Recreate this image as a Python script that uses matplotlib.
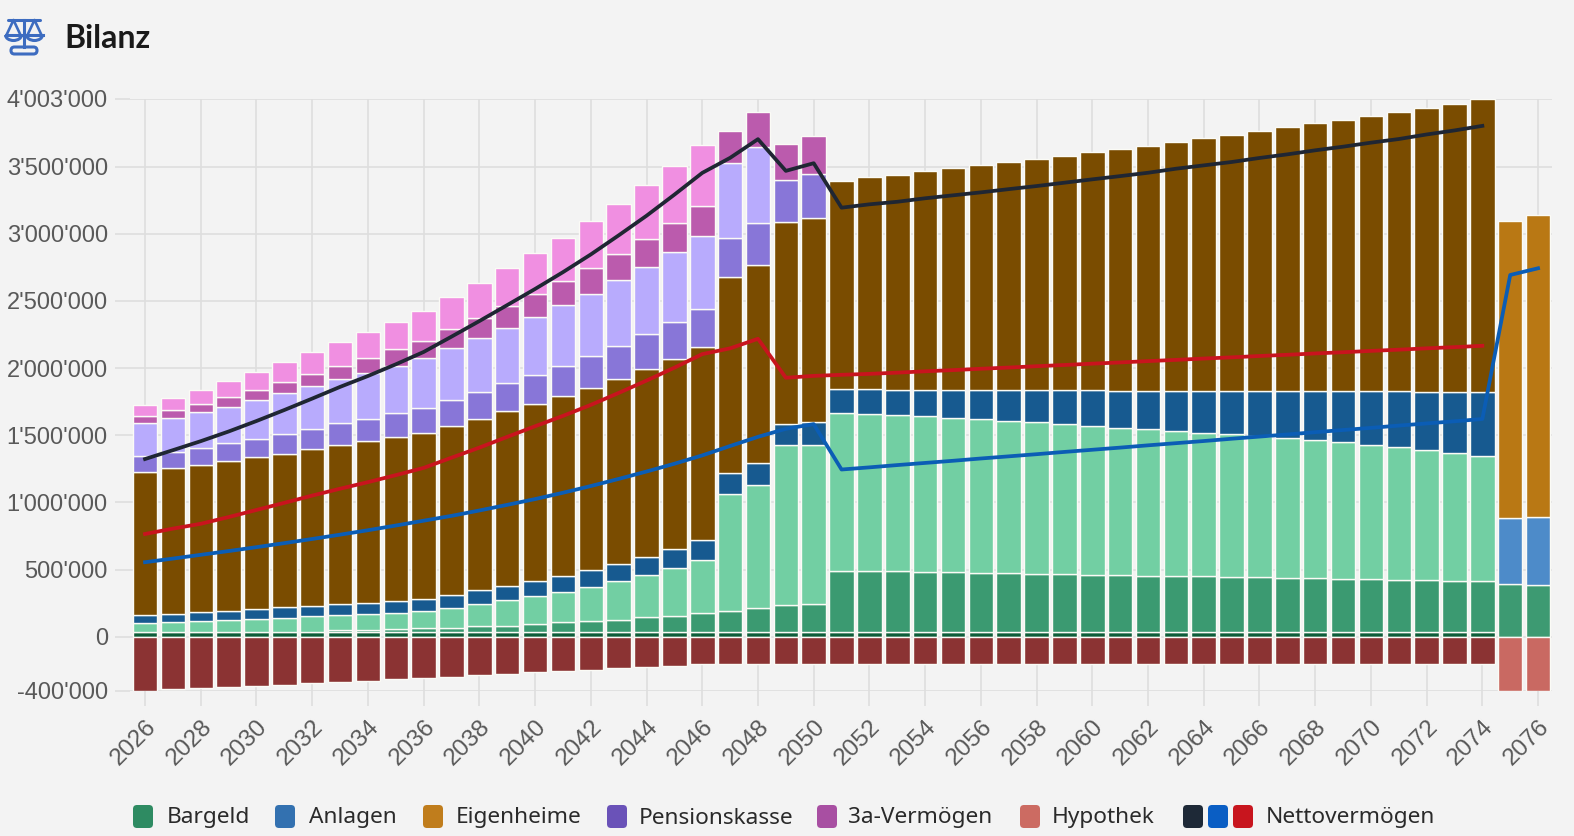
import numpy as np
import matplotlib.pyplot as plt
from matplotlib.patches import FancyBboxPatch, Arc

K = 1000  # Werte unten in Tausend CHF

years = np.arange(2026, 2075)
late_years = np.array([2075, 2076])

# Stapel 2026-2074 (von unten nach oben)
cash_dark = [38, 38, 38, 38, 38, 38, 38, 38, 38, 38,
             38, 38, 38, 38, 38, 38, 38, 38, 38, 38,
             38, 38, 38, 38, 38, 38, 38, 38, 38, 38,
             38, 38, 38, 38, 38, 38, 38, 38, 38, 38,
             38, 38, 38, 38, 38, 38, 38, 38, 38]
cash_mid = [0, 0, 0, 0, 0, 0, 0, 10, 15, 20,
            25, 30, 40, 45, 60, 70, 77, 90, 107, 120,
            139, 157, 179, 202, 207,
            455, 452, 448, 445, 441, 438, 435, 431, 428, 424,
            421, 418, 414, 411, 407, 404, 401, 397, 394, 390,
            387, 384, 380, 377]
invest_light = [64, 69, 76, 84, 94, 104, 114, 112, 116, 120,
                126, 146, 168, 193, 208, 228, 256, 288, 318, 355,
                398, 871, 915, 1184, 1185,
                1175, 1168, 1164, 1160, 1151, 1142, 1133, 1127, 1117, 1106,
                1097, 1088, 1079, 1069, 1061, 1052, 1042, 1029, 1015, 1001,
                984, 967, 949, 933]
invest_dark = [62, 65, 67, 70, 75, 77, 80, 84, 83, 86,
               93, 97, 100, 105, 110, 120, 127, 129, 132, 142,
               144, 152, 160, 157, 165,
               174, 183, 190, 196, 208, 220, 231, 240, 252, 266,
               277, 288, 301, 313, 324, 335, 347, 364, 380, 397,
               417, 436, 458, 476]
home = [1066, 1083, 1100, 1115, 1128, 1145, 1162, 1182, 1202, 1220,
        1236, 1258, 1276, 1296, 1314, 1334, 1353, 1374, 1396, 1415,
        1437, 1458, 1474, 1503, 1521,
        1552, 1578, 1598, 1625, 1648, 1670, 1695, 1719, 1745, 1771,
        1796, 1822, 1852, 1878, 1904, 1935, 1963, 1993, 2021, 2052,
        2079, 2114, 2144, 2179]
pk_dark = [112, 119, 126, 133, 140, 148, 155, 162, 170, 178,
           186, 194, 203, 211, 221, 229, 239, 249, 261, 274,
           286, 293, 311, 317, 331,
           0, 0, 0, 0, 0, 0, 0, 0, 0, 0,
           0, 0, 0, 0, 0, 0, 0, 0, 0, 0,
           0, 0, 0, 0]
pk_light = [246, 254, 263, 273, 285, 299, 315, 330, 343, 357,
            370, 384, 399, 414, 430, 447, 465, 484, 502, 520,
            538, 556, 571, 0, 0,
            0, 0, 0, 0, 0, 0, 0, 0, 0, 0,
            0, 0, 0, 0, 0, 0, 0, 0, 0, 0,
            0, 0, 0, 0]
s3a_dark = [53, 58, 65, 73, 80, 86, 93, 101, 110, 120,
            130, 141, 150, 161, 172, 181, 190, 200, 208, 218,
            229, 240, 256, 267, 278,
            0, 0, 0, 0, 0, 0, 0, 0, 0, 0,
            0, 0, 0, 0, 0, 0, 0, 0, 0, 0,
            0, 0, 0, 0]
s3a_light = [82, 95, 105, 117, 132, 147, 162, 177, 190, 205,
             222, 242, 262, 282, 302, 323, 347, 372, 398, 424,
             449, 0, 0, 0, 0,
             0, 0, 0, 0, 0, 0, 0, 0, 0, 0,
             0, 0, 0, 0, 0, 0, 0, 0, 0, 0,
             0, 0, 0, 0]
mortgage = [-400, -392, -384, -375, -366, -356, -346, -336, -326, -316,
            -306, -296, -286, -276, -266, -256, -246, -236, -226, -215,
            -205, -200, -200, -200, -200,
            -200, -200, -200, -200, -200, -200, -200, -200, -200, -200,
            -200, -200, -200, -200, -200, -200, -200, -200, -200, -200,
            -200, -200, -200, -200]

# Stapel 2075-2076
cash_late = [395, 382]
invest_late = [486, 513]
home_late = [2212, 2248]
mortgage_late = [-400, -400]

# Nettovermoegen je Linie
net_red = [765, 805, 841, 891, 944, 997, 1051, 1102, 1151, 1203,
           1257, 1333, 1408, 1488, 1567, 1644, 1726, 1815, 1907, 2003,
           2104, 2147, 2218, 1928, 1942, 1950,
           1957, 1966, 1976, 1985, 1995, 2004, 2014, 2023, 2033, 2042,
           2052, 2061, 2071, 2080, 2090, 2099, 2109, 2118, 2128, 2137,
           2147, 2156, 2166]
net_blue = [555, 582, 610, 638, 667, 697, 728, 760, 793, 828,
            864, 900, 940, 982, 1025, 1072, 1122, 1175, 1230, 1288,
            1350, 1420, 1488, 1548, 1583,
            1245, 1261, 1278, 1294, 1310, 1327, 1343, 1359, 1376, 1392,
            1408, 1425, 1441, 1457, 1474, 1490, 1506, 1523, 1539, 1555,
            1572, 1588, 1604, 1621,
            2693, 2743]

yticks = [-400000, 0, 500000, 1000000, 1500000, 2000000,
          2500000, 3000000, 3500000, 4003000]

BG = '#f3f3f3'
GRID = '#dedede'

fig = plt.figure(figsize=(15.74, 8.36), dpi=100)
fig.patch.set_facecolor(BG)
ax = fig.add_axes([130/1574, (836-690.5)/836, 1422/1574, 591.5/836])
ax.set_facecolor(BG)

W = 0.88
EDGE = dict(edgecolor='#fbfbf6', linewidth=1.0, zorder=2)


def stack(ax, xs, layers):
    bottom = np.zeros(len(xs))
    for vals, col in layers:
        v = np.array(vals, float) * K
        ax.bar(xs, np.where(v > 0, v, np.nan), W, bottom=bottom, color=col, **EDGE)
        bottom += v
    return bottom


main_layers = [(cash_dark, '#0d5d39'), (cash_mid, '#3b9a71'),
               (invest_light, '#72cfa3'), (invest_dark, '#175a90'),
               (home, '#7a4c00'), (pk_dark, '#8876d8'),
               (pk_light, '#b8abfd'), (s3a_dark, '#bb5bad'),
               (s3a_light, '#f08fe1')]
total_pos = stack(ax, years, main_layers)
ax.bar(years, np.array(mortgage) * K, W, color='#8b3333', **EDGE)

stack(ax, late_years, [(cash_late, '#3d9a72'), (invest_late, '#4d8bc9'),
                       (home_late, '#b97814')])
ax.bar(late_years, np.array(mortgage_late) * K, W, color='#c96962', **EDGE)

net_total = total_pos + np.array(mortgage) * K
ax.plot(years, net_total, color='#1f2633', lw=2.7, zorder=5)
ax.plot(years, np.array(net_red) * K, color='#c8141e', lw=2.7, zorder=5)
ax.plot(np.concatenate([years, late_years]), np.array(net_blue) * K,
        color='#0b5db5', lw=2.7, zorder=5)

ax.set_xlim(2025.46, 2076.5)
ax.set_ylim(-400000, 4003000)
ax.set_yticks(yticks)
ax.set_yticklabels([f"{v:,}".replace(',', "'") for v in yticks],
                   family='Liberation Sans', fontsize=17, color='#595959')
ax.set_xticks(np.arange(2026, 2077, 2))
ax.set_xticklabels([str(y) for y in range(2026, 2077, 2)], rotation=45,
                   ha='right', va='top', rotation_mode='anchor',
                   family='Liberation Sans', fontsize=17.5, color='#595959')
ax.tick_params(axis='both', length=11, width=1.2, color=GRID)
ax.tick_params(axis='y', pad=5)
ax.tick_params(axis='x', pad=7)
ax.grid(True, color=GRID, lw=1.2)
ax.set_axisbelow(True)
for s in ax.spines.values():
    s.set_visible(False)

# Overlay in Pixelkoordinaten fuer Titel, Icon und Legende
ov = fig.add_axes([0, 0, 1, 1])
ov.set_xlim(0, 1574)
ov.set_ylim(836, 0)
ov.axis('off')

ic = '#3d6cc0'
ov.plot([8, 40], [20, 20], color=ic, lw=2.2, solid_capstyle='round')
ov.plot([24, 24], [20, 47], color=ic, lw=2.2)
ov.add_patch(FancyBboxPatch((11, 47), 26, 7, boxstyle='round,pad=0,rounding_size=3.5',
                            fill=False, edgecolor=ic, lw=2.2))
for cx in (13.5, 34.5):
    ov.plot([cx - 7, cx, cx + 7], [35, 20, 35], color=ic, lw=1.9)
    ov.plot([cx - 8, cx + 8], [35, 35], color=ic, lw=2.2)
    ov.add_patch(Arc((cx, 35), 16, 11, theta1=0, theta2=180, color=ic, lw=2.2))

ov.text(64, 38, 'Bilanz', fontsize=23, weight='bold', family='Lato',
        color='#1a1a1a', va='center', ha='left')

legend_items = [
    (133, 167, ['#2e8b62'], 'Bargeld'),
    (275, 309, ['#3371b0'], 'Anlagen'),
    (423, 456, ['#c07d1c'], 'Eigenheime'),
    (607, 639, ['#6a52b8'], 'Pensionskasse'),
    (817, 848, ['#a84fa2'], '3a-Vermögen'),
    (1020, 1052, ['#cc6b62'], 'Hypothek'),
    (1183, 1266, ['#1e2937', '#0a5ec4', '#c8151e'], 'Nettovermögen'),
]
for sx, tx, cols, label in legend_items:
    for i, c in enumerate(cols):
        ov.add_patch(FancyBboxPatch((sx + i * 25, 805), 20, 23,
                                    boxstyle='round,pad=0,rounding_size=4',
                                    facecolor=c, edgecolor='none'))
    ov.text(tx, 818, label, fontsize=16.3, family='Noto Sans', color='#2a2a2a',
            va='center', ha='left')

fig.savefig('out.png', dpi=100, facecolor=BG)
